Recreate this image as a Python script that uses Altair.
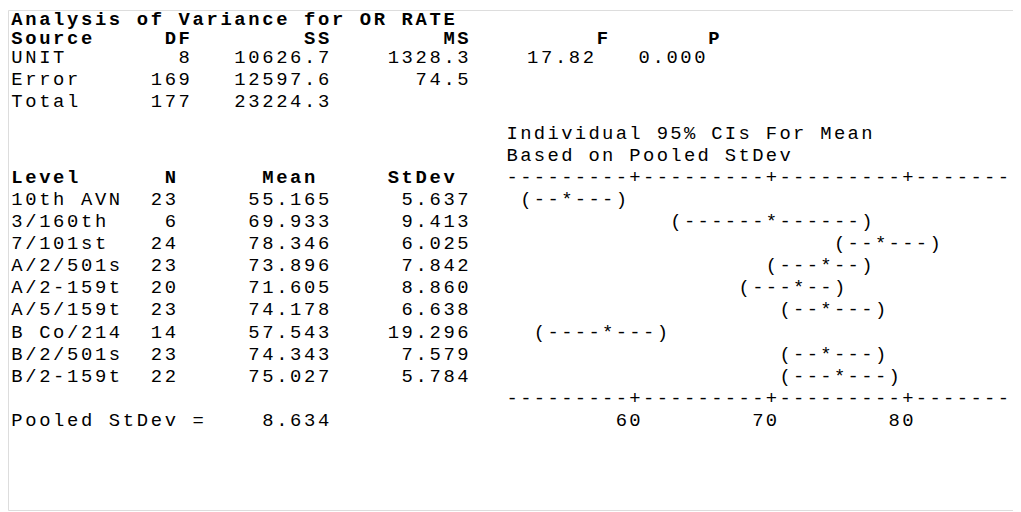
import altair as alt
import pandas as pd

# ---------------- data ----------------
title = "Analysis of Variance for OR RATE"
anova_header = ["Source", "DF", "SS", "MS", "F", "P"]
sources = ["UNIT", "Error", "Total"]
dfs = [8, 169, 177]
ss = [10626.7, 12597.6, 23224.3]
ms = ["1328.3", "74.5", ""]
f_vals = ["17.82", "", ""]
p_vals = ["0.000", "", ""]

ci_title = ["Individual 95% CIs For Mean", "Based on Pooled StDev"]
level_header = ["Level", "N", "Mean", "StDev"]
levels = ["10th AVN", "3/160th", "7/101st", "A/2/501s", "A/2-159t",
          "A/5/159t", "B Co/214", "B/2/501s", "B/2-159t"]
ns = [23, 6, 24, 23, 20, 23, 14, 23, 22]
means = [55.165, 69.933, 78.346, 73.896, 71.605, 74.178, 57.543, 74.343, 75.027]
sds = [5.637, 9.413, 6.025, 7.842, 8.860, 6.638, 19.296, 7.579, 5.784]
ci_glyphs = ["(--*---)", "(------*------)", "(--*---)", "(---*--)", "(---*--)",
             "(--*---)", "(----*---)", "(--*---)", "(---*---)"]
ticks = [60, 70, 80]
pooled_sd = 8.634

# ---------------- layout constants ----------------
FONT = "Liberation Mono"
SIZE = 19
W, H = 1013, 504
CW_L = 14.05          # px per character, table part
CW_R = 13.75          # px per axis unit (= one character), interval part
X0_L = 2              # chart px of the table's left edge
AX_PX = 632           # chart px of the value 60 on the interval axis
AX_V0 = 60
Y0 = 2                # chart px of line 0 (centre)
LH = 22.3             # px per line
TITLE_LINE = 0.32
HEADER_LINE = 1.17
ANOVA_LINE = 2.02
L0 = 5.45             # line of the lower block's first row

left_rows, right_rows = [], []


def add_left(text, line, bold=False):
    left_rows.append((text, line, bold))


def add_right(text, v_start, line):
    right_rows.append((text, v_start, line))


add_left(title, TITLE_LINE, True)
add_left(f"{anova_header[0]:<11}{anova_header[1]:<10}{anova_header[2]:<10}"
         f"{anova_header[3]:<11}{anova_header[4]:<8}{anova_header[5]}", HEADER_LINE, True)
for i, s in enumerate(sources):
    add_left(f"{s:<10}{dfs[i]:>3}{ss[i]:>10.1f}{ms[i]:>10}{f_vals[i]:>9}{p_vals[i]:>8}",
             ANOVA_LINE + i)

axis_str = "---------+" * 4
axis_start = AX_V0 - 9
add_right(ci_title[0], axis_start, L0)
add_right(ci_title[1], axis_start, L0 + 1)
add_left(f"{level_header[0]:<11}{level_header[1]}{level_header[2]:>10}"
         f"{level_header[3]:>10}", L0 + 2, True)
add_right(axis_str, axis_start, L0 + 2)
for i, lv in enumerate(levels):
    add_left(f"{lv:<9}{ns[i]:>3}{means[i]:>11.3f}{sds[i]:>10.3f}", L0 + 3 + i)
    g = ci_glyphs[i]
    add_right(g, round(means[i]) - g.index("*"), L0 + 3 + i)
n_lv = len(levels)
add_right(axis_str, axis_start, L0 + 3 + n_lv)
add_left(f"Pooled StDev = {pooled_sd:>8.3f}", L0 + 4 + n_lv)
for t in ticks:
    add_right(str(t), t - len(str(t)) + 1, L0 + 4 + n_lv)

# explode into single characters so spacing follows the character grid
v_max = AX_V0 + (W - AX_PX) / CW_R
chars = []
for text, line, bold in left_rows:
    for k, ch in enumerate(text):
        if ch != " ":
            chars.append({"ch": ch, "col": k + 0.5, "line": line,
                          "bold": bold, "part": "L"})
for text, v0, line in right_rows:
    for k, ch in enumerate(text):
        if ch != " " and v0 + k <= v_max:
            chars.append({"ch": ch, "val": v0 + k, "line": line,
                          "bold": False, "part": "R"})
df = pd.DataFrame(chars)

xl_scale = alt.Scale(domain=[-X0_L / CW_L, (W - X0_L) / CW_L], nice=False, zero=False)
xr_scale = alt.Scale(domain=[AX_V0 - AX_PX / CW_R, AX_V0 + (W - AX_PX) / CW_R],
                     nice=False, zero=False)
y_scale = alt.Scale(domain=[(H - Y0) / LH, -Y0 / LH], nice=False, zero=False)

mk = dict(align="center", baseline="middle", font=FONT, fontSize=SIZE, color="black")

left_base = alt.Chart(df).transform_filter("datum.part == 'L'").encode(
    x=alt.X("col:Q", scale=xl_scale, axis=None),
    y=alt.Y("line:Q", scale=y_scale, axis=None),
    text="ch:N",
)
left_normal = left_base.transform_filter("!datum.bold").mark_text(**mk)
left_bold = left_base.transform_filter("datum.bold").mark_text(fontWeight="bold", **mk)

right = alt.Chart(df).transform_filter("datum.part == 'R'").mark_text(**mk).encode(
    x=alt.X("val:Q", scale=xr_scale, axis=None),
    y=alt.Y("line:Q", scale=y_scale, axis=None),
    text="ch:N",
)

chart = alt.layer(left_normal, left_bold, right).resolve_scale(
    x="independent"
).properties(
    width=W, height=H, autosize=alt.AutoSizeParams(type="none"), padding=0
).configure_view(strokeWidth=0, stroke="white").configure(background="white")

chart.save("out.html", embed_options={"renderer": "svg", "actions": False})
